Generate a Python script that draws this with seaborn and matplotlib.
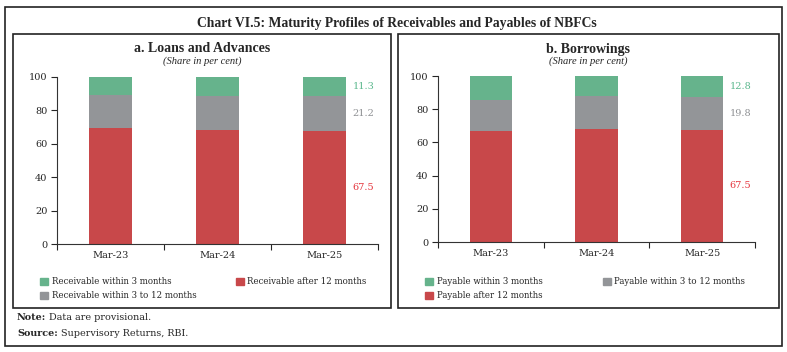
import matplotlib
matplotlib.use("Agg")
import matplotlib.pyplot as plt
import matplotlib.patches as mpatches
import seaborn as sns
import numpy as np

years = ["Mar-23", "Mar-24", "Mar-25"]

# a. Loans and Advances (share in per cent)
recv_3m = [10.8, 11.4, 11.3]
recv_3_12m = [19.6, 20.6, 21.2]
recv_12m = [69.6, 68.0, 67.5]

# b. Borrowings (share in per cent)
pay_3m = [14.3, 12.3, 12.8]
pay_3_12m = [18.8, 19.9, 19.8]
pay_12m = [66.9, 67.8, 67.5]

GREEN = "#66b38c"
GREY = "#939598"
RED = "#c8484a"
txt_cols = {GREEN: "#5cb88e", GREY: "#8f9194", RED: "#e5343c"}

sns.set_theme(style="white")
plt.rcParams["font.family"] = ["DejaVu Serif"]

fig = plt.figure(figsize=(7.87, 3.52), dpi=100)
W, H = 787, 352


def fx(px):
    return px / W


def fy(py):
    return 1 - py / H


def box(x0, y0, x1, y1, lw=1.2):
    fig.patches.append(mpatches.Rectangle((fx(x0), fy(y1)), fx(x1) - fx(x0), fy(y0) - fy(y1),
                                          transform=fig.transFigure, fill=False,
                                          edgecolor="#222222", linewidth=lw))


box(5, 7, 782, 346)
box(13, 34, 391, 308)
box(398, 34, 779, 308)

fig.text(fx(397), fy(23), "Chart VI.5: Maturity Profiles of Receivables and Payables of NBFCs",
         ha="center", va="center", fontsize=9.8, fontweight="bold", family="Liberation Serif")


def bold_lead(x, y, lead, rest, size=7):
    t = fig.text(fx(x), fy(y), lead, ha="left", va="center", fontsize=size,
                 fontweight="bold", family="DejaVu Serif")
    fig.canvas.draw()
    bb = t.get_window_extent(renderer=fig.canvas.get_renderer())
    fig.text(fx(bb.x1 + 3), fy(y), rest, ha="left", va="center", fontsize=size,
             family="DejaVu Serif")


bold_lead(17, 318, "Note:", "Data are provisional.", 6.9)
bold_lead(17, 333, "Source:", "Supervisory Returns, RBI.", 6.9)


def panel(rect, title, series, labels, colors, legend_order, title_x, leg_x, colspace):
    ax = fig.add_axes([fx(rect[0]), fy(rect[3]), fx(rect[2]) - fx(rect[0]), fy(rect[1]) - fy(rect[3])])
    bottom = np.zeros(len(years))
    for vals, col in zip(series, colors):
        sns.barplot(x=years, y=vals, bottom=bottom, color=col, width=0.4,
                    saturation=1, ax=ax, linewidth=0)
        bottom = bottom + np.array(vals)
    ax.set_ylim(0, 100)
    ax.set_xlim(-0.5, 2.5)
    ax.set_yticks(range(0, 101, 20))
    ax.set_xticks([0, 1, 2])
    ax.set_xticks([-0.5, 0.5, 1.5, 2.5], minor=True)
    ax.tick_params(axis="x", which="major", length=0, labelsize=7, pad=5)
    ax.tick_params(axis="x", which="minor", length=4, width=0.8, direction="out", bottom=True)
    ax.tick_params(axis="y", length=4, width=0.8, direction="out", left=True, labelsize=7, pad=3)
    for s in ["top", "right"]:
        ax.spines[s].set_visible(False)
    for s in ["left", "bottom"]:
        ax.spines[s].set_color("#333333")
        ax.spines[s].set_linewidth(0.8)
    ax.set_xlabel("")
    ax.set_ylabel("")

    # value labels next to the last bar
    base = 0
    for vals, col in zip(series, colors):
        ax.text(2.26, base + vals[-1] / 2, f"{vals[-1]:.1f}", ha="left", va="center",
                fontsize=7, color=txt_cols[col])
        base += vals[-1]

    fig.text(fx(title_x), fy(49), title, ha="center", va="center", fontsize=10,
             fontweight="bold", family="Liberation Serif")
    fig.text(fx(title_x), fy(61), "(Share in per cent)", ha="center", va="center",
             fontsize=7.6, style="italic", family="Liberation Serif")

    handles = [mpatches.Patch(color=colors[i], label=labels[i]) for i in legend_order]
    fig.legend(handles=handles, ncol=2, loc="upper left",
               bbox_to_anchor=(fx(leg_x), fy(274)), frameon=False, fontsize=6.2,
               handlelength=0.9, handleheight=0.9, handletextpad=0.4,
               columnspacing=colspace, labelspacing=0.55, borderaxespad=0)
    return ax


panel((57, 77, 378, 244), "a. Loans and Advances",
      [recv_12m, recv_3_12m, recv_3m],
      ["Receivable after 12 months", "Receivable within 3 to 12 months", "Receivable within 3 months"],
      [RED, GREY, GREEN], [2, 1, 0], 202, 37, 4.6)

panel((438, 76, 755, 242), "b. Borrowings",
      [pay_12m, pay_3_12m, pay_3m],
      ["Payable after 12 months", "Payable within 3 to 12 months", "Payable within 3 months"],
      [RED, GREY, GREEN], [2, 0, 1], 588, 422, 7.0)

fig.savefig("out.png", dpi=100)
